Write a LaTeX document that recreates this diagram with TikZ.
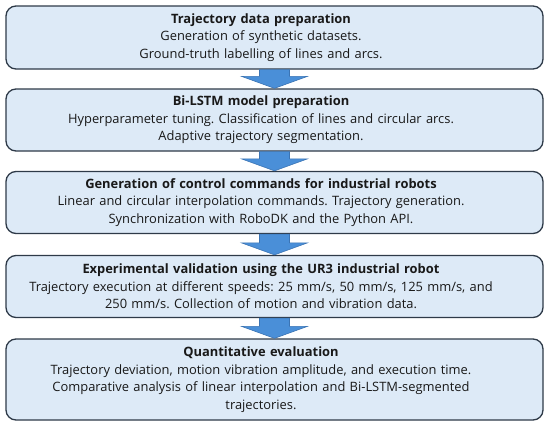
\documentclass[tikz,border=0pt]{standalone}
\usepackage{fontspec}
\setmainfont{Open Sans}
\usetikzlibrary{calc}
\definecolor{boxfill}{HTML}{DDEAF7}
\definecolor{boxline}{HTML}{2E3A48}
\definecolor{arrfill}{HTML}{4A8FD8}
\definecolor{arrline}{HTML}{3B74B4}
\frenchspacing
\begin{document}
\begin{tikzpicture}[x=1pt,y=1pt,
		stage/.style={draw=boxline,fill=boxfill,line width=1.3pt,rounded corners=10pt,
			minimum width=537pt,text width=530pt,align=center,inner sep=0pt,
			font=\fontsize{12.9}{17.5}\selectfont,text=black!90,
			execute at begin node={\leftskip=0pt plus 1fil\rightskip=27pt plus 1fil\parfillskip=0pt\relax}},
		flow/.style={fill=arrfill,draw=arrline,line width=0.6pt,
			to path={($(\tikztostart)+(-15,0)$) -- ($(\tikztotarget)+(-15,12)$)
				-- ($(\tikztotarget)+(-33,12)$) -- (\tikztotarget)
				-- ($(\tikztotarget)+(33,12)$) -- ($(\tikztotarget)+(15,12)$)
				-- ($(\tikztostart)+(15,0)$) -- cycle}}]
	\useasboundingbox (0,0) rectangle (550,-426);
	\node [stage,minimum height=63pt] (s1) at (274.5,-37.5)
		{\textbf{Trajectory data preparation}\\
		Generation of synthetic datasets.\\
		Ground-truth labelling of lines and arcs.};
	\node [stage,minimum height=62pt] (s2) at (274.5,-120)
		{\textbf{Bi-LSTM model preparation}\\
		Hyperparameter tuning. Classification of lines and circular arcs.\\
		Adaptive trajectory segmentation.};
	\node [stage,minimum height=62pt] (s3) at (274.5,-202.5)
		{\textbf{Generation of control commands for industrial robots}\\
		Linear and circular interpolation commands. Trajectory generation.\\
		Synchronization with RoboDK and the Python API.};
	\node [stage,minimum height=62pt] (s4) at (274.5,-286.5)
		{\textbf{Experimental validation using the UR3 industrial robot}\\
		Trajectory execution at different speeds: 25~mm/s, 50~mm/s, 125~mm/s, and\\
		250~mm/s. Collection of motion and vibration data.};
	\node [stage,minimum height=81pt] (s5) at (274.5,-379.5)
		{\textbf{Quantitative evaluation}\\
		Trajectory deviation, motion vibration amplitude, and execution time.\\
		Comparative analysis of linear interpolation and Bi-LSTM-segmented\\
		trajectories.};
	% block arrows between the stages
	\path (s1.south) edge[flow] (s2.north);
	\path (s2.south) edge[flow] (s3.north);
	\path (s3.south) edge[flow] (s4.north);
	\path (s4.south) edge[flow] (s5.north);
\end{tikzpicture}
\end{document}
